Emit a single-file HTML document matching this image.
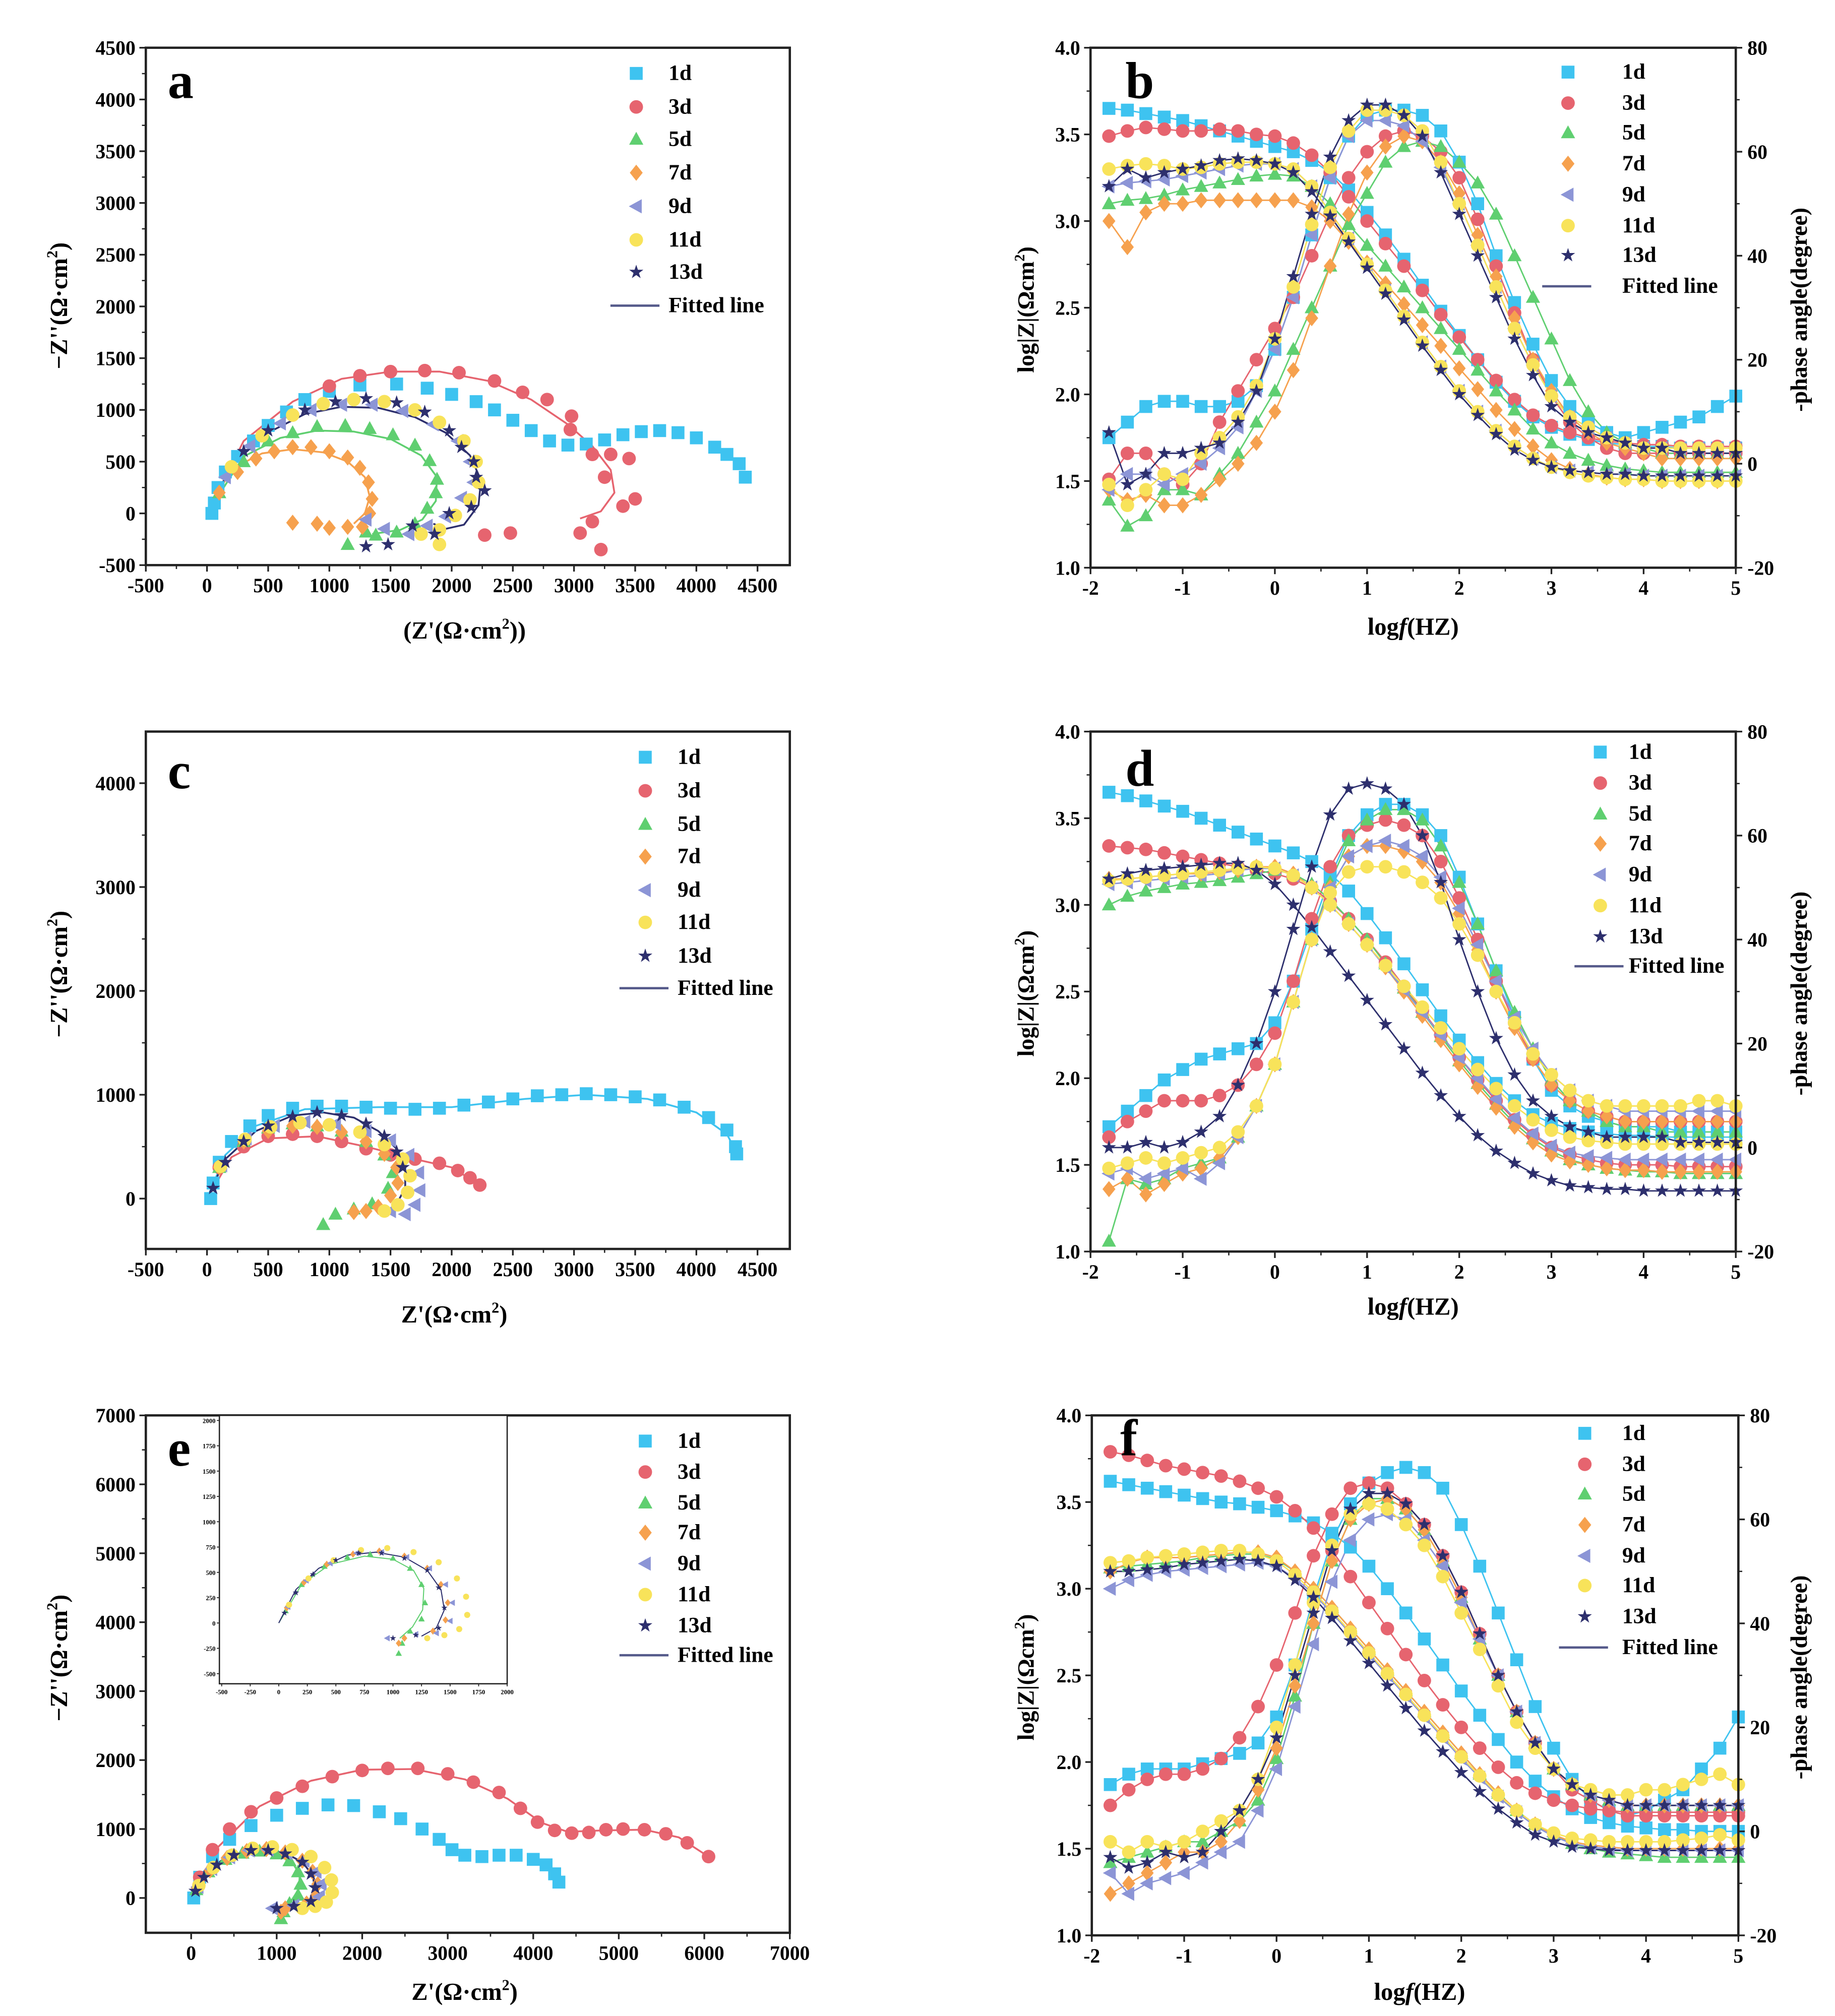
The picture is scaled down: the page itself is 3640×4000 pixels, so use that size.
<!DOCTYPE html>
<html><head><meta charset="utf-8">
<style>
html,body{margin:0;padding:0;background:#fff;}
svg{display:block;}
text{font-family:"Liberation Serif",serif;font-weight:bold;fill:#000;}
</style></head>
<body>
<svg id="fig" xmlns="http://www.w3.org/2000/svg" width="3640" height="4000" viewBox="0 0 1421.875 1562.5"></svg>
<script>
// ---------- shared ----------
const seriesNames = ["1d","3d","5d","7d","9d","11d","13d"];
const seriesColors = ["#3ec3f0","#e6646f","#5fcf70","#f6a14e","#8c95d6","#f8e35a","#2d2f6d"];
const seriesMarkers = ["square","circle","tri","diamond","left","circle","star"];
const logF = [-1.8,-1.6,-1.4,-1.2,-1.0,-0.8,-0.6,-0.4,-0.2,0,0.2,0.4,0.6,0.8,1.0,1.2,1.4,1.6,1.8,2.0,2.2,2.4,2.6,2.8,3.0,3.2,3.4,3.6,3.8,4.0,4.2,4.4,4.6,4.8,5.0];

// ---------- panel a (Nyquist) ----------
const a1d = [[40,0],[60,100],[90,250],[150,400],[250,550],[380,700],[500,850],[650,980],[800,1100],[1000,1180],[1250,1240],[1550,1250],[1800,1210],[2000,1150],[2200,1080],[2350,1000],[2500,900],[2650,800],[2800,700],[2950,660],[3100,670],[3250,710],[3400,760],[3550,790],[3700,800],[3850,780],[4000,730],[4150,640],[4250,570],[4350,480],[4400,350]];
const a3d = [[1000,1230],[1250,1330],[1500,1370],[1780,1380],[2060,1360],[2350,1280],[2580,1170],[2780,1100],[2980,940],[2970,810],[3150,570],[3300,570],[3450,530],[3250,350],[3500,140],[3400,70],[3150,-80],[3050,-190],[3220,-350],[2480,-190],[2270,-210]];
const a5d = [[100,200],[300,500],[500,700],[700,780],[900,840],[1130,850],[1330,820],[1520,760],[1700,660],[1820,510],[1880,330],[1870,200],[1800,50],[1700,-100],[1550,-180],[1380,-210],[1150,-300],[1300,-180]];
const a7d = [[100,200],[250,400],[400,530],[550,600],[700,640],[850,640],[1000,600],[1150,540],[1250,440],[1320,300],[1350,140],[1330,0],[1270,-130],[1150,-130],[1000,-140],[900,-100],[700,-90]];
const a9d = [[150,350],[350,650],[600,870],[850,1000],[1100,1050],[1350,1050],[1600,990],[1850,860],[2050,700],[2150,500],[2180,300],[2080,150],[1950,-30],[1800,-120],[1650,-200],[1450,-150],[1300,-60]];
const a11d = [[200,450],[450,750],[700,950],[950,1060],[1200,1100],[1450,1080],[1700,1000],[1900,880],[2100,700],[2200,500],[2220,300],[2150,130],[2030,-20],[1900,-160],[1750,-200],[1900,-300]];
const a13d = [[300,600],[500,800],[800,1000],[1050,1080],[1300,1110],[1550,1070],[1780,980],[1980,800],[2080,640],[2180,500],[2200,350],[2270,220],[2160,60],[1980,0],[1860,-200],[1680,-120],[1480,-300],[1300,-320]];
const aFitNavy = [[0,0],[100,250],[250,520],[500,780],[800,960],[1100,1030],[1400,1020],[1700,930],[1950,780],[2150,560],[2240,320],[2220,80],[2100,-110],[1950,-150],[1850,-100]];
const aFit3d = [[0,0],[300,700],[700,1080],[1100,1300],[1500,1370],[1900,1370],[2300,1280],[2650,1100],[2950,860],[3150,650],[3300,420],[3330,200],[3220,20],[3050,-50]];
const aFit5d = [[0,0],[300,550],[600,730],[900,800],[1200,790],[1500,720],[1750,560],[1880,350],[1870,120],[1760,-60],[1580,-160],[1350,-200]];
const aFit7d = [[0,0],[200,430],[450,580],[700,620],[950,590],[1150,500],[1290,350],[1330,160],[1290,0],[1200,-100]];

// ---------- panel c (Nyquist) ----------
const c1d = [[30,0],[50,150],[100,350],[200,550],[350,700],[500,800],[700,870],[900,890],[1100,890],[1300,880],[1500,870],[1700,860],[1900,870],[2100,900],[2300,930],[2500,960],[2700,990],[2900,1000],[3100,1010],[3300,1000],[3500,980],[3700,950],[3900,880],[4100,780],[4250,660],[4320,500],[4330,430]];
const c3d = [[100,300],[300,500],[500,600],[700,620],[900,600],[1100,550],[1300,480],[1500,420],[1700,380],[1900,340],[2050,270],[2150,200],[2230,130]];
const c5d = [[100,300],[300,550],[500,680],[700,720],[900,700],[1100,650],[1300,550],[1450,420],[1520,250],[1480,100],[1350,-50],[1200,-100],[1050,-150],[950,-250]];
const c7d = [[100,300],[300,550],[500,650],[700,700],[900,690],[1100,640],[1300,550],[1450,430],[1550,300],[1560,150],[1500,30],[1400,-80],[1300,-120],[1200,-130]];
const c9d = [[120,320],[320,580],[550,700],[800,740],[1050,720],[1300,650],[1500,560],[1650,420],[1730,250],[1740,80],[1700,-60],[1620,-150],[1500,-120]];
const c11d = [[110,310],[310,570],[520,690],[760,730],[1000,710],[1250,640],[1450,520],[1600,380],[1660,220],[1640,60],[1560,-60],[1450,-120]];
const c13d = [[50,100],[150,350],[300,550],[500,700],[700,790],[900,830],[1100,800],[1300,720],[1450,600],[1550,450],[1600,300]];
const cFitNavy = [[0,0],[150,380],[400,650],[700,800],[950,830],[1200,780],[1400,650],[1550,480],[1620,300],[1620,100],[1550,-50]];
const cFit1d = [[0,0],[150,420],[400,700],[800,860],[1400,880],[2000,880],[2600,960],[3100,1000],[3600,960],[4000,830],[4250,620],[4330,440]];
const cFit3d = [[0,0],[200,400],[500,580],[900,600],[1300,500],[1700,380],[2000,300],[2230,130]];

// ---------- panel e (Nyquist + inset) ----------
const e1d = [[30,0],[100,300],[250,600],[450,850],[700,1050],[1000,1200],[1300,1300],[1600,1350],[1900,1340],[2200,1250],[2450,1150],[2700,1000],[2900,850],[3050,700],[3200,620],[3400,600],[3600,620],[3800,620],[4000,560],[4150,480],[4250,350],[4300,230]];
const e3d = [[100,300],[250,700],[450,1000],[700,1250],[1000,1450],[1300,1620],[1650,1760],[2000,1850],[2300,1880],[2650,1880],[3000,1800],[3300,1680],[3600,1530],[3850,1300],[4050,1100],[4250,980],[4450,940],[4650,950],[4850,990],[5050,1000],[5300,990],[5550,930],[5800,800],[6050,600]];
const e5d = [[60,120],[200,380],[400,560],[600,650],[800,680],[1000,640],[1150,540],[1250,380],[1280,200],[1250,40],[1150,-80],[1080,-200],[1050,-300]];
const e7d = [[70,150],[220,400],[420,580],[650,680],[880,710],[1100,660],[1300,540],[1420,380],[1480,200],[1460,30],[1350,-80],[1100,-150],[1050,-200]];
const e9d = [[80,160],[240,420],[450,590],[680,690],[900,700],[1120,650],[1320,540],[1460,380],[1520,200],[1500,20],[1380,-100],[1200,-110],[950,-150]];
const e11d = [[90,180],[260,440],[480,620],[720,720],[950,740],[1180,700],[1400,600],[1560,440],[1640,260],[1650,80],[1580,-60],[1450,-120],[1300,-150]];
const e13d = [[50,100],[150,300],[300,480],[500,620],[700,690],[900,690],[1100,640],[1300,520],[1400,350],[1450,150],[1400,-50],[1200,-120],[1000,-150]];
const eFitNavy = [[0,0],[150,330],[350,540],[600,670],[850,700],[1100,650],[1300,520],[1420,330],[1450,130],[1380,-50],[1250,-130]];
const eFit3d = [[0,0],[300,720],[800,1330],[1400,1700],[2000,1860],[2600,1870],[3200,1720],[3700,1440],[4100,1090],[4400,960],[4800,980],[5300,990],[5700,880],[6050,600]];
const eFit5d = [[0,0],[200,380],[450,580],[750,660],[1000,630],[1180,520],[1270,340],[1260,130],[1170,-40],[1060,-150]];

// ---------- panel b (Bode) ----------
const b1dZ = [3.65,3.64,3.62,3.60,3.58,3.55,3.52,3.49,3.46,3.43,3.40,3.35,3.28,3.18,3.05,2.92,2.78,2.63,2.48,2.34,2.20,2.07,1.96,1.87,1.81,1.77,1.74,1.72,1.71,1.70,1.70,1.69,1.69,1.69,1.69];
const b1dP = [5,8,11,12,12,11,11,12,15,22,32,44,55,63,67,68,68,67,64,58,50,40,31,23,16,11,8,6,5,6,7,8,9,11,13];
const b3dZ = [3.49,3.52,3.54,3.53,3.52,3.52,3.53,3.52,3.50,3.49,3.45,3.38,3.28,3.14,3.00,2.87,2.74,2.60,2.46,2.33,2.20,2.08,1.97,1.88,1.82,1.78,1.75,1.73,1.72,1.71,1.71,1.70,1.70,1.70,1.70];
const b3dP = [-3,2,2,-2,-4,0,8,14,20,26,32,40,48,55,60,63,64,63,60,55,47,38,29,20,13,8,5,3,2,2,2,2,2,2,2];
const b5dZ = [3.10,3.12,3.13,3.15,3.18,3.20,3.22,3.24,3.26,3.27,3.26,3.20,3.10,2.98,2.86,2.74,2.62,2.50,2.38,2.26,2.14,2.02,1.91,1.80,1.72,1.66,1.62,1.59,1.57,1.56,1.55,1.55,1.55,1.55,1.55];
const b5dP = [-7,-12,-10,-5,-5,-6,-2,2,8,14,22,30,38,46,52,58,61,62,61,58,54,48,40,32,24,16,10,6,4,3,2,2,2,2,2];
const b7dZ = [3.00,2.85,3.05,3.10,3.10,3.12,3.12,3.12,3.12,3.12,3.12,3.08,3.00,2.88,2.76,2.64,2.52,2.40,2.28,2.15,2.03,1.91,1.80,1.70,1.62,1.57,1.54,1.52,1.51,1.51,1.50,1.50,1.50,1.50,1.50];
const b7dP = [-5,-7,-6,-8,-8,-6,-3,0,4,10,18,28,38,48,56,61,63,62,58,52,44,36,28,20,14,9,6,4,3,2,1,1,1,1,1];
const b9dZ = [3.20,3.22,3.23,3.24,3.26,3.28,3.30,3.32,3.33,3.33,3.30,3.20,3.05,2.90,2.75,2.60,2.45,2.30,2.16,2.02,1.90,1.79,1.70,1.63,1.58,1.56,1.55,1.54,1.54,1.53,1.53,1.53,1.53,1.53,1.53];
const b9dP = [-5,-2,-2,-4,-2,0,3,7,14,22,32,44,55,63,66,66,65,62,57,50,42,34,26,19,13,9,7,5,4,3,3,3,3,3,3];
const b11dZ = [3.30,3.32,3.33,3.32,3.30,3.31,3.33,3.34,3.34,3.33,3.30,3.20,3.05,2.90,2.75,2.60,2.45,2.30,2.16,2.02,1.90,1.79,1.70,1.63,1.58,1.55,1.53,1.52,1.51,1.51,1.50,1.50,1.50,1.50,1.50];
const b11dP = [-4,-8,-5,-2,-3,2,5,9,15,24,34,46,57,64,68,68,67,64,58,50,42,34,26,19,13,9,7,5,4,3,3,3,3,3,3];
const b13dZ = [3.20,3.30,3.25,3.28,3.30,3.32,3.35,3.36,3.35,3.33,3.28,3.17,3.03,2.88,2.73,2.58,2.43,2.28,2.14,2.00,1.88,1.77,1.68,1.62,1.58,1.56,1.55,1.54,1.54,1.53,1.53,1.53,1.53,1.53,1.53];
const b13dP = [6,-4,-2,2,2,3,4,8,14,24,36,48,59,66,69,69,67,63,56,48,40,32,24,17,11,8,6,5,4,3,3,2,2,2,2];

// ---------- panel d (Bode) ----------
const d1dZ = [3.65,3.63,3.60,3.57,3.54,3.50,3.46,3.42,3.38,3.34,3.30,3.25,3.18,3.08,2.95,2.81,2.66,2.51,2.36,2.22,2.09,1.97,1.87,1.79,1.74,1.71,1.69,1.68,1.67,1.67,1.66,1.66,1.66,1.66,1.66];
const d1dP = [4,7,10,13,15,17,18,19,20,24,32,42,52,60,64,66,66,64,60,52,43,34,25,17,11,8,6,5,4,4,4,3,3,3,3];
const d3dZ = [3.34,3.33,3.32,3.30,3.28,3.26,3.24,3.22,3.20,3.18,3.15,3.10,3.02,2.92,2.80,2.67,2.53,2.39,2.25,2.12,1.99,1.87,1.76,1.67,1.60,1.56,1.53,1.51,1.50,1.50,1.50,1.49,1.49,1.49,1.49];
const d3dP = [2,5,7,9,9,9,10,12,16,22,32,44,54,60,62,63,62,60,55,48,40,32,24,17,12,9,7,6,5,5,5,5,5,5,5];
const d5dZ = [3.00,3.05,3.08,3.10,3.12,3.13,3.14,3.16,3.18,3.20,3.18,3.12,3.03,2.92,2.80,2.66,2.52,2.38,2.24,2.10,1.97,1.85,1.74,1.65,1.58,1.53,1.50,1.48,1.47,1.46,1.46,1.45,1.45,1.45,1.45];
const d5dP = [-18,-6,-7,-6,-4,-3,-2,2,8,16,28,40,51,59,63,65,65,63,58,51,43,34,26,19,13,9,7,5,4,4,3,3,3,3,3];
const d7dZ = [3.15,3.15,3.16,3.17,3.18,3.18,3.19,3.20,3.22,3.22,3.18,3.10,3.00,2.89,2.77,2.64,2.50,2.36,2.22,2.08,1.95,1.83,1.72,1.63,1.56,1.52,1.50,1.48,1.47,1.47,1.46,1.46,1.46,1.46,1.46];
const d7dP = [-8,-6,-9,-7,-5,-4,-2,2,8,16,28,40,50,56,58,58,57,55,51,45,38,30,23,17,12,9,7,6,5,5,5,5,5,5,5];
const d9dZ = [3.12,3.13,3.14,3.15,3.16,3.17,3.18,3.20,3.21,3.21,3.17,3.10,3.00,2.89,2.77,2.64,2.51,2.38,2.25,2.12,2.00,1.88,1.77,1.68,1.61,1.57,1.55,1.54,1.53,1.53,1.53,1.53,1.53,1.53,1.53];
const d9dP = [-5,-4,-6,-5,-4,-6,-3,2,8,16,28,40,50,56,58,59,58,56,52,46,39,32,25,19,14,11,9,8,7,7,7,7,7,7,7];
const d11dZ = [3.14,3.15,3.16,3.17,3.18,3.19,3.20,3.21,3.22,3.21,3.17,3.10,3.00,2.89,2.77,2.65,2.53,2.41,2.29,2.17,2.05,1.94,1.84,1.76,1.70,1.66,1.64,1.63,1.62,1.62,1.62,1.62,1.62,1.62,1.62];
const d11dP = [-4,-3,-2,-3,-2,-1,0,3,8,16,28,40,49,53,54,54,53,51,48,43,37,30,24,18,14,11,9,8,8,8,8,8,9,9,8];
const d13dZ = [3.15,3.18,3.20,3.21,3.22,3.23,3.24,3.24,3.20,3.12,3.00,2.87,2.73,2.59,2.45,2.31,2.17,2.03,1.90,1.78,1.67,1.58,1.51,1.45,1.41,1.38,1.37,1.36,1.36,1.35,1.35,1.35,1.35,1.35,1.35];
const d13dP = [0,0,1,0,1,3,6,12,20,30,42,54,64,69,70,69,66,60,51,40,30,21,14,9,6,4,3,2,2,2,2,1,1,1,1];

// ---------- panel f (Bode) ----------
const f1dZ = [3.62,3.60,3.58,3.56,3.54,3.52,3.50,3.49,3.47,3.45,3.42,3.38,3.32,3.24,3.13,3.00,2.86,2.71,2.56,2.41,2.27,2.13,2.00,1.89,1.80,1.73,1.68,1.65,1.63,1.62,1.61,1.61,1.60,1.60,1.60];
const f1dP = [9,11,12,12,12,13,14,15,17,22,32,45,56,63,67,69,70,69,66,59,51,42,33,24,16,10,6,4,3,4,6,8,12,16,22];
const f3dZ = [3.79,3.77,3.74,3.71,3.69,3.67,3.65,3.62,3.58,3.53,3.45,3.35,3.22,3.07,2.92,2.77,2.62,2.47,2.33,2.20,2.08,1.97,1.88,1.82,1.78,1.75,1.73,1.72,1.71,1.71,1.71,1.71,1.71,1.71,1.71];
const f3dP = [5,8,10,11,11,12,14,18,24,32,42,53,61,66,67,66,63,59,53,46,38,30,23,17,12,8,6,4,3,3,3,3,3,3,3];
const f5dZ = [3.12,3.13,3.14,3.15,3.16,3.18,3.19,3.20,3.20,3.17,3.10,3.00,2.89,2.77,2.65,2.53,2.41,2.29,2.17,2.05,1.93,1.82,1.72,1.64,1.58,1.53,1.50,1.48,1.47,1.46,1.45,1.45,1.45,1.45,1.45];
const f5dP = [-6,-5,-4,-3,-2,-2,0,2,6,14,26,40,52,60,64,64,62,58,52,45,37,30,23,17,12,9,7,6,5,5,5,5,5,5,5];
const f7dZ = [3.10,3.15,3.18,3.18,3.18,3.19,3.20,3.21,3.21,3.18,3.10,3.00,2.89,2.77,2.65,2.53,2.41,2.29,2.17,2.05,1.93,1.82,1.72,1.64,1.58,1.54,1.52,1.51,1.50,1.50,1.50,1.50,1.50,1.50,1.50];
const f7dP = [-12,-10,-8,-6,-4,-4,-2,2,8,16,28,40,52,60,63,64,62,58,52,45,37,30,23,17,12,9,7,6,5,5,5,5,5,5,5];
const f9dZ = [3.00,3.05,3.08,3.10,3.11,3.12,3.13,3.14,3.15,3.13,3.06,2.97,2.86,2.74,2.62,2.50,2.38,2.26,2.14,2.02,1.91,1.80,1.71,1.63,1.57,1.53,1.51,1.50,1.49,1.49,1.49,1.49,1.49,1.49,1.49];
const f9dP = [-8,-12,-10,-9,-8,-6,-4,-2,4,12,24,36,48,56,60,61,60,56,51,44,37,30,23,17,12,9,7,6,5,5,5,5,5,5,5];
const f11dZ = [3.15,3.16,3.18,3.19,3.20,3.21,3.22,3.22,3.20,3.16,3.08,2.98,2.87,2.75,2.63,2.51,2.39,2.27,2.15,2.03,1.92,1.81,1.72,1.64,1.59,1.56,1.55,1.54,1.54,1.54,1.54,1.55,1.56,1.58,1.55];
const f11dP = [-2,-4,-2,-3,-2,0,2,4,10,20,32,44,55,61,63,62,59,55,49,42,35,28,21,16,12,9,8,7,7,8,8,9,10,11,9];
const f13dZ = [3.10,3.10,3.11,3.12,3.14,3.15,3.16,3.17,3.16,3.13,3.05,2.95,2.83,2.70,2.57,2.44,2.31,2.18,2.06,1.94,1.83,1.73,1.65,1.58,1.54,1.51,1.50,1.49,1.49,1.49,1.49,1.49,1.49,1.49,1.49];
const f13dP = [-5,-7,-6,-4,-5,-4,0,4,10,18,30,42,54,62,65,65,63,59,53,46,38,30,23,17,12,9,7,6,5,5,5,5,5,5,5];

// ---------- tick label arrays ----------
const nyqXTicksA = [-500,0,500,1000,1500,2000,2500,3000,3500,4000,4500];
const nyqYTicksA = [-500,0,500,1000,1500,2000,2500,3000,3500,4000,4500];
const nyqYTicksC = [0,1000,2000,3000,4000];
const nyqTicksE = [0,1000,2000,3000,4000,5000,6000,7000];
const insetXTicks = [-500,-250,0,250,500,750,1000,1250,1500,1750,2000];
const insetYTicks = [-500,-250,0,250,500,750,1000,1250,1500,1750,2000];
const bodeXTicks = [-2,-1,0,1,2,3,4,5];
const bodeZTicks = [1.0,1.5,2.0,2.5,3.0,3.5,4.0];
const bodePTicks = [-20,0,20,40,60,80];

// ---------- drawing ----------
const NS = "http://www.w3.org/2000/svg";
const svg = document.getElementById("fig");
const TFS = 15.5;
function el(tag, attrs, parent){
  const e = document.createElementNS(NS, tag);
  for (const k in attrs) e.setAttribute(k, attrs[k]);
  (parent||svg).appendChild(e);
  return e;
}
function txt(s, x, y, size, parent, anchor, extra){
  const t = el("text", Object.assign({x:x, y:y, "font-size":size, "text-anchor":anchor||"middle"}, extra||{}), parent);
  t.textContent = s;
  return t;
}
function lin(d0,d1,p0,p1){ return v => p0 + (v-d0)/(d1-d0)*(p1-p0); }

function marker(parent, type, cx, cy, color, s){
  const h = s/2; let m;
  if (type==="square") m = el("rect",{x:cx-h,y:cy-h,width:s,height:s,fill:color},parent);
  else if (type==="circle") m = el("circle",{cx:cx,cy:cy,r:h*1.05,fill:color},parent);
  else if (type==="tri") m = el("polygon",{points:`${cx},${cy-h*1.15} ${cx+h*1.1},${cy+h*0.85} ${cx-h*1.1},${cy+h*0.85}`,fill:color},parent);
  else if (type==="diamond") m = el("polygon",{points:`${cx},${cy-h*1.25} ${cx+h},${cy} ${cx},${cy+h*1.25} ${cx-h},${cy}`,fill:color},parent);
  else if (type==="left") m = el("polygon",{points:`${cx-h*1.15},${cy} ${cx+h*0.85},${cy-h*1.1} ${cx+h*0.85},${cy+h*1.1}`,fill:color},parent);
  else {
    let pts=[];
    for(let i=0;i<10;i++){const r=i%2?h*0.45:h*1.15;const a=-Math.PI/2+i*Math.PI/5;pts.push((cx+r*Math.cos(a)).toFixed(1)+","+(cy+r*Math.sin(a)).toFixed(1));}
    m = el("polygon",{points:pts.join(" "),fill:color},parent);
  }
  return m;
}

function frame(g, box){
  el("rect",{x:box.x0,y:box.y0,width:box.x1-box.x0,height:box.y1-box.y0,fill:"none",stroke:"#222","stroke-width":1.8},g);
}
function xTicks(g, box, sx, ticks, size, fmt, dy){
  const step = ticks[1]-ticks[0];
  ticks.forEach((t,i)=>{
    const x = sx(t);
    el("line",{x1:x,y1:box.y1,x2:x,y2:box.y1+5,stroke:"#222","stroke-width":1.3},g);
    const lab = txt(fmt?fmt(t):String(t), x, box.y1+(dy||21), size, g);
    
    
    if(i<ticks.length-1){ const xm = sx(t+step/2); el("line",{x1:xm,y1:box.y1,x2:xm,y2:box.y1+3,stroke:"#222","stroke-width":1},g); }
  });
}
function yTicks(g, box, sy, ticks, size, fmt, right){
  const step = ticks[1]-ticks[0];
  ticks.forEach((t,i)=>{
    const y = sy(t);
    const xa = right?box.x1:box.x0, d = right?5:-5;
    el("line",{x1:xa,y1:y,x2:xa+d,y2:y,stroke:"#222","stroke-width":1.3},g);
    const lab = txt(fmt?fmt(t):String(t), right?xa+9:xa-8, y+size*0.35, size, g, right?"start":"end");
    
    
    if(i<ticks.length-1){ const ym = sy(t+step/2); el("line",{x1:xa,y1:ym,x2:xa+d*0.6,y2:ym,stroke:"#222","stroke-width":1},g); }
  });
}
function polyline(g, pts, sx, sy, color, w){
  const p = el("polyline",{points:pts.map(q=>sx(q[0]).toFixed(1)+","+sy(q[1]).toFixed(1)).join(" "),fill:"none",stroke:color,"stroke-width":w||1.3,"stroke-linejoin":"round"},g);
  return p;
}
function legend(g, xm, xt, ys, size, msize){
  seriesNames.forEach((n,i)=>{
    const le = el("g",{},g);
    
    
    marker(le, seriesMarkers[i], xm, ys[i]-size*0.3, seriesColors[i], msize);
    txt(n, xt, ys[i], size, le, "start");
  });
  const lf = el("g",{},g);
  
  
  el("line",{x1:xm-20,y1:ys[7]-size*0.3,x2:xm+18,y2:ys[7]-size*0.3,stroke:"#555a8a","stroke-width":1.8},lf);
  txt("Fitted line", xt, ys[7], size, lf, "start");
}

function nyquist(cfg){
  const g = el("g",{});
  
  
  const b = cfg.box;
  const sx = lin(cfg.xr[0],cfg.xr[1],b.x0,b.x1), sy = lin(cfg.yr[0],cfg.yr[1],b.y1,b.y0);
  el("rect",{x:b.x0,y:b.y0,width:b.x1-b.x0,height:b.y1-b.y0,fill:"#fff"},g);
  const fits = el("g",{},g);
  
  
  cfg.fits.forEach(f=>polyline(fits, f[0], sx, sy, f[1], 1.4));
  cfg.data.forEach((ser,i)=>{
    const sg = el("g",{},g);
    
    
    ser.forEach(p=>marker(sg, seriesMarkers[i], sx(p[0]), sy(p[1]), seriesColors[i], cfg.ms||10));
  });
  frame(g,b);
  xTicks(g,b,sx,cfg.xt,TFS,null,cfg.xdy);
  yTicks(g,b,sy,cfg.yt,TFS);
  return {g,sx,sy};
}

function bode(cfg){
  const g = el("g",{});
  
  
  const b = cfg.box;
  const sx = lin(-2,5,b.x0,b.x1), sy = lin(1,4,b.y1,b.y0), sp = lin(-20,80,b.y1,b.y0);
  const fits = el("g",{},g);
  
  
  cfg.Z.forEach((arr,i)=>{
    polyline(fits, logF.map((f,k)=>[f,arr[k]]), sx, sy, i===6?"#2d2f6d":seriesColors[i], 1.1);
    polyline(fits, logF.map((f,k)=>[f,cfg.P[i][k]]), sx, sp, i===6?"#2d2f6d":seriesColors[i], 1.1);
  });
  cfg.Z.forEach((arr,i)=>{
    const sg = el("g",{},g);
    
    
    logF.forEach((f,k)=>marker(sg, seriesMarkers[i], sx(f), sy(arr[k]), seriesColors[i], 10));
    const pg = el("g",{},g);
    
    
    logF.forEach((f,k)=>marker(pg, seriesMarkers[i], sx(f), sp(cfg.P[i][k]), seriesColors[i], 10));
  });
  frame(g,b);
  xTicks(g,b,sx,bodeXTicks,TFS);
  yTicks(g,b,sy,bodeZTicks,TFS,v=>v.toFixed(1));
  yTicks(g,b,sp,bodePTicks,TFS,null,true);
  return g;
}

function label(s,x,y,name){ const t=txt(s,x,y,40,svg,"start");   }
function sup2(parent, before, after, x, y, size, rot, name){
  const t = el("text",{x:x,y:y,"font-size":size,"text-anchor":"middle"},parent);
  if(rot) t.setAttribute("transform",`rotate(${rot} ${x} ${y})`);
  
  
  t.appendChild(document.createTextNode(before));
  const s = document.createElementNS(NS,"tspan"); s.setAttribute("dy",-size*0.4); s.setAttribute("font-size",size*0.62); s.textContent="2"; t.appendChild(s);
  const s2 = document.createElementNS(NS,"tspan"); s2.setAttribute("dy",size*0.4); s2.textContent=after; t.appendChild(s2);
  return t;
}
function logfTitle(x,y,name){
  const t = el("text",{x:x,y:y,"font-size":19,"text-anchor":"middle"});
  
  
  t.appendChild(document.createTextNode("log"));
  const i = document.createElementNS(NS,"tspan"); i.setAttribute("font-style","italic"); i.textContent="f"; t.appendChild(i);
  t.appendChild(document.createTextNode("(HZ)"));
}
function phaseTitle(y,name){
  const t=txt("-phase angle(degree)",1400,y,18,svg,"middle",{transform:`rotate(-90 1400 ${y})`});
  
  
}

// Panel a
nyquist({name:"panel-a-nyquist",box:{x0:113,x1:612,y0:37,y1:438},xr:[-500,4764],yr:[-500,4500],
  data:[a1d,a3d,a5d,a7d,a9d,a11d,a13d],xt:nyqXTicksA,yt:nyqYTicksA,
  fits:[[aFit3d,"#e6646f"],[aFit5d,"#5fcf70"],[aFit7d,"#f6a14e"],[aFitNavy,"#2d2f6d"]]});
legend(svg,493,518,[62,88,113,139,165,191,216,242],17,10);
label("a",130,76,"panel-a-label");
sup2(svg,"(Z'(Ω·cm","))",360,495,19,0,"panel-a-x-title");
sup2(svg,"−Z''(Ω·cm",")",52,237,19,-90,"panel-a-y-title");

// Panel b
bode({name:"panel-b-bode",box:{x0:845,x1:1345,y0:37,y1:440},Z:[b1dZ,b3dZ,b5dZ,b7dZ,b9dZ,b11dZ,b13dZ],P:[b1dP,b3dP,b5dP,b7dP,b9dP,b11dP,b13dP]});
legend(svg,1215,1257,[61,85,108,132,156,180,203,227],17,10);
label("b",872,76,"panel-b-label");
sup2(svg,"log|Z|(Ωcm",")",801,240,18,-90,"panel-b-y-title");
phaseTitle(240,"panel-b-right-y-title");
logfTitle(1095,492,"panel-b-x-title");

// Panel c
nyquist({name:"panel-c-nyquist",box:{x0:113,x1:612,y0:567,y1:968},xr:[-500,4764],yr:[-485,4497],
  data:[c1d,c3d,c5d,c7d,c9d,c11d,c13d],xt:nyqXTicksA,yt:nyqYTicksC,
  fits:[[cFit1d,"#3ec3f0"],[cFit3d,"#e6646f"],[cFitNavy,"#2d2f6d"]]});
legend(svg,500,525,[592,618,644,669,695,720,746,771],17,10);
label("c",130,611,"panel-c-label");
sup2(svg,"Z'(Ω·cm",")",352,1025,19,0,"panel-c-x-title");
sup2(svg,"−Z''(Ω·cm",")",52,755,19,-90,"panel-c-y-title");

// Panel d
bode({name:"panel-d-bode",box:{x0:845,x1:1345,y0:567,y1:970},Z:[d1dZ,d3dZ,d5dZ,d7dZ,d9dZ,d11dZ,d13dZ],P:[d1dP,d3dP,d5dP,d7dP,d9dP,d11dP,d13dP]});
legend(svg,1240,1262,[588,612,636,659,683,707,731,754],17,10);
label("d",872,609,"panel-d-label");
sup2(svg,"log|Z|(Ωcm",")",801,770,18,-90,"panel-d-y-title");
phaseTitle(770,"panel-d-right-y-title");
logfTitle(1095,1019,"panel-d-x-title");

// Panel e
nyquist({name:"panel-e-nyquist",box:{x0:113,x1:612,y0:1097,y1:1498},xr:[-530,7000],yr:[-505,7000],
  data:[e1d,e3d,e5d,e7d,e9d,e11d,e13d],xt:nyqTicksE,yt:nyqTicksE,
  fits:[[eFit3d,"#e6646f"],[eFit5d,"#5fcf70"],[eFitNavy,"#2d2f6d"]]});
// inset
{
  const ig = el("g",{});
  
  
  const b={x0:170,x1:393,y0:1097,y1:1305};
  el("rect",{x:b.x0,y:b.y0,width:b.x1-b.x0,height:b.y1-b.y0,fill:"#fff"},ig);
  const sx=lin(-520,2000,b.x0,b.x1), sy=lin(-600,2050,b.y1,b.y0);
  [[eFit5d,"#5fcf70"],[eFitNavy,"#2d2f6d"]].forEach(f=>polyline(ig,f[0],sx,sy,f[1],0.8));
  [e5d,e7d,e9d,e11d,e13d].forEach((ser,j)=>{
    const i=j+2;
    const sg=el("g",{},ig);
    
    
    ser.forEach(p=>marker(sg,seriesMarkers[i],sx(p[0]),sy(p[1]),seriesColors[i],4.5));
  });
  el("rect",{x:b.x0,y:b.y0,width:b.x1-b.x0,height:b.y1-b.y0,fill:"none",stroke:"#222","stroke-width":1},ig);
  insetXTicks.forEach(t=>{const x=sx(t);el("line",{x1:x,y1:b.y1,x2:x,y2:b.y1+2,stroke:"#222","stroke-width":0.7},ig);
    const l=txt(String(t),x,b.y1+8,5,ig);});
  insetYTicks.forEach(t=>{const y=sy(t);if(y<b.y0-1)return;el("line",{x1:b.x0,y1:y,x2:b.x0-2,y2:y,stroke:"#222","stroke-width":0.7},ig);
    const l=txt(String(t),b.x0-3,y+2,5,ig,"end");});
}
legend(svg,500,525,[1122,1146,1170,1193,1217,1241,1265,1288],17,10);
label("e",130,1136,"panel-e-label");
sup2(svg,"Z'(Ω·cm",")",360,1550,19,0,"panel-e-x-title");
sup2(svg,"−Z''(Ω·cm",")",52,1285,19,-90,"panel-e-y-title");

// Panel f
bode({name:"panel-f-bode",box:{x0:846,x1:1347,y0:1097,y1:1500},Z:[f1dZ,f3dZ,f5dZ,f7dZ,f9dZ,f11dZ,f13dZ],P:[f1dP,f3dP,f5dP,f7dP,f9dP,f11dP,f13dP]});
legend(svg,1228,1257,[1116,1140,1163,1187,1211,1234,1258,1282],17,10);
label("f",868,1128,"panel-f-label");
sup2(svg,"log|Z|(Ωcm",")",801,1300,18,-90,"panel-f-y-title");
phaseTitle(1300,"panel-f-right-y-title");
logfTitle(1100,1550,"panel-f-x-title");
</script>
</body></html>
